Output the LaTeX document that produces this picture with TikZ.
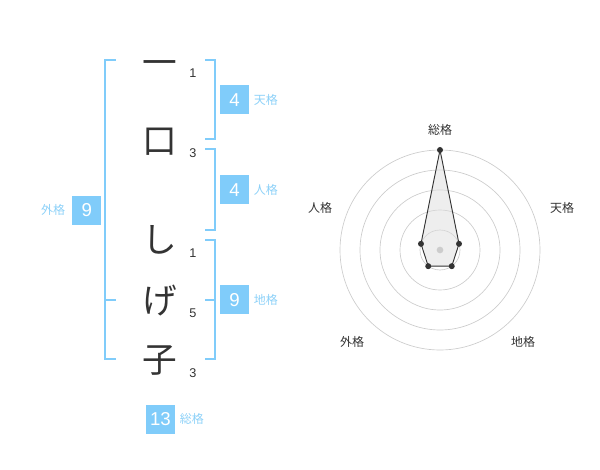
\documentclass[tikz,border=0pt]{standalone}
\usepackage{fontspec}
\setmainfont{Liberation Sans}
\newfontfamily\jp{Noto Sans CJK JP}
\usepackage{tikz}
\usetikzlibrary{arrows.meta}

\definecolor{boxblue}{HTML}{80CCFA}
\definecolor{lblblue}{HTML}{8DD1F8}
\definecolor{ink}{HTML}{333333}
\definecolor{ring}{HTML}{CCCCCC}
\definecolor{area}{HTML}{DDDDDD}

\tikzset{
  bracket/.style={draw=boxblue,line width=1.5pt},
  kanji/.style={text=ink,font=\jp\fontsize{26}{26}\selectfont,inner sep=0pt},
  strokes/.style={text=ink,font=\fontsize{9.5}{10}\selectfont,inner sep=0pt},
  scorebox/.style={fill=boxblue,text=white,minimum size=21.75pt,inner sep=0pt,font=\fontsize{14}{14}\selectfont},
  kakulabel/.style={text=lblblue,font=\jp\fontsize{9}{9}\selectfont,inner sep=0pt},
  axislabel/.style={text=ink,font=\jp\fontsize{9}{9}\selectfont,inner sep=0pt},
  dot/.style={circle,fill=ink,minimum size=4.5pt,inner sep=0pt}
}

\begin{document}
\begin{tikzpicture}[x=0.75pt,y=-0.75pt]
\useasboundingbox (0,0) rectangle (600,470);

% name characters and stroke counts
\node[kanji] (c1) at (160,68) {一};
\node[kanji] (c2) at (160,142) {口};
\node[kanji] (c3) at (160,240) {し};
\node[kanji] (c4) at (160,301) {げ};
\node[kanji] (c5) at (160,361) {子};

\node[strokes] (n1) at (193,73) {1};
\node[strokes] (n2) at (193,153) {3};
\node[strokes] (n3) at (193,253) {1};
\node[strokes] (n4) at (193,313) {5};
\node[strokes] (n5) at (193,373) {3};

% brackets
\draw[bracket] (115.7,60) -- (105,60) -- (105,359.3) -- (115.7,359.3);
\draw[bracket] (105,300) -- (115.7,300);

\draw[bracket] (205,60) -- (215,60) -- (215,139.3) -- (205,139.3);
\draw[bracket] (205,149.3) -- (215,149.3) -- (215,230) -- (205,230);
\draw[bracket] (205,240) -- (215,240) -- (215,359.3) -- (205,359.3);
\draw[bracket] (205,300) -- (215,300);

% scores
\node[scorebox] (ten) at (234.5,100) {4};
\node[kakulabel,anchor=west] (tenl) at (253.5,100) {天格};
\node[scorebox] (jin) at (234.5,190) {4};
\node[kakulabel,anchor=west] (jinl) at (253.5,190) {人格};
\node[scorebox] (chi) at (234.5,300) {9};
\node[kakulabel,anchor=west] (chil) at (253.5,300) {地格};
\node[scorebox] (gai) at (86.7,210.3) {9};
\node[kakulabel,anchor=east] (gail) at (65.5,210.3) {外格};
\node[scorebox] (sou) at (160.5,419) {13};
\node[kakulabel,anchor=west] (soul) at (179.5,419) {総格};

% radar chart
\begin{scope}[shift={(440,250)},yscale=-1]
\foreach \r in {20,40,60,80,100}
  \draw[ring,line width=0.5pt] (0,0) circle (\r);
\coordinate (psou) at (90:100);
\coordinate (pten) at (18:20);
\coordinate (pchi) at (-54:20);
\coordinate (pgai) at (-126:20);
\coordinate (pjin) at (162:20);
\draw[ink,fill=area,fill opacity=0.5,line width=0.7pt] (psou) -- (pten) -- (pchi) -- (pgai) -- (pjin) -- cycle;
\node[circle,fill=ring,minimum size=5pt,inner sep=0pt] (mid) at (0,0) {};
\foreach \p in {psou,pten,pchi,pgai,pjin}
  \node[dot] at (\p) {};
\end{scope}

\node[axislabel] (asou) at (440,130) {総格};
\node[axislabel] (aten) at (562,208) {天格};
\node[axislabel] (ajin) at (320,208) {人格};
\node[axislabel] (agai) at (352,342) {外格};
\node[axislabel] (achi) at (523,342) {地格};

\end{tikzpicture}
\end{document}
